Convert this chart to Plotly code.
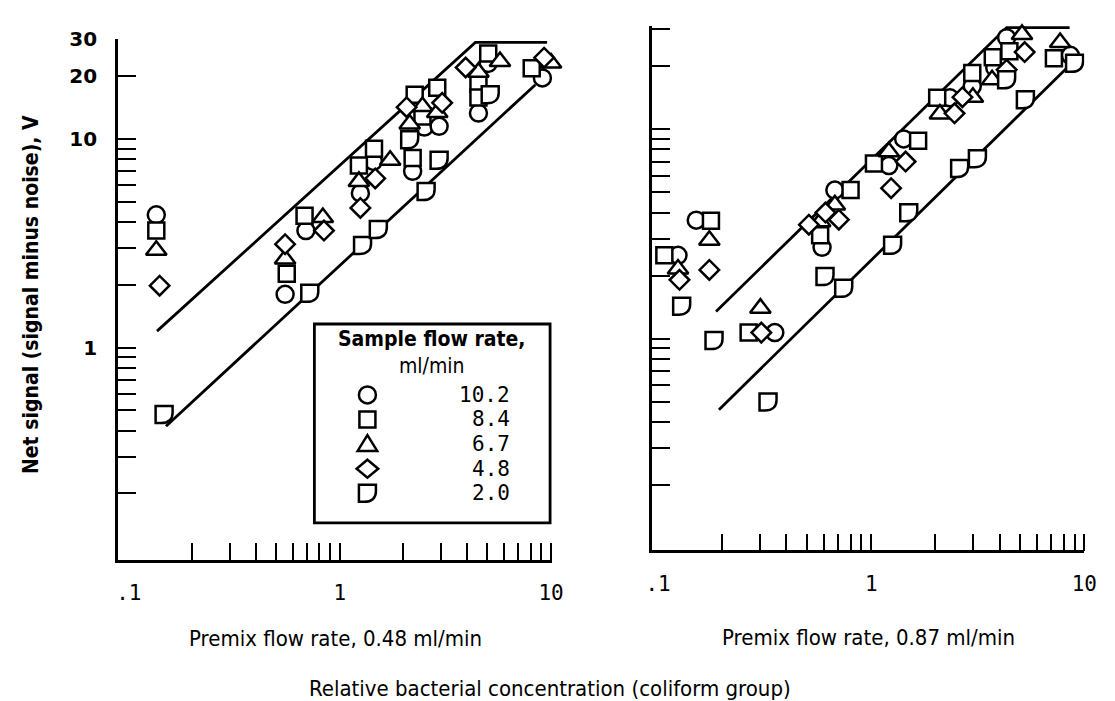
import plotly.graph_objects as go

# ---------------- data ----------------
flow_rates = ["10.2", "8.4", "6.7", "4.8", "2.0"]
symbols = ["circle", "square", "triangle-up", "diamond", "D"]

# Left panel: premix flow rate 0.48 ml/min
L_circle_x = [0.135, 0.55, 0.69, 1.44, 1.25, 2.51, 2.95, 2.21, 5.04, 4.53, 9.1]
L_circle_y = [4.33, 1.80, 3.64, 7.8, 5.5, 11.4, 11.5, 7.0, 23.0, 13.3, 19.6]
L_square_x = [0.135, 0.56, 0.68, 1.45, 1.23, 2.26, 2.89, 2.46, 2.21, 5.04, 4.53, 4.53, 8.1]
L_square_y = [3.64, 2.26, 4.29, 8.97, 7.46, 16.3, 17.6, 12.8, 8.1, 25.7, 18.4, 15.8, 21.8]
L_tri_x = [0.135, 0.55, 0.83, 1.73, 1.23, 2.46, 2.89, 2.14, 5.73, 4.53, 10.0]
L_tri_y = [2.93, 2.66, 4.2, 7.9, 6.26, 14.3, 13.4, 11.8, 23.5, 20.9, 23.1]
L_dia_x = [0.14, 0.55, 0.84, 1.47, 1.25, 2.07, 3.05, 3.94, 9.27]
L_dia_y = [1.98, 3.13, 3.64, 6.47, 4.67, 14.2, 14.9, 22.0, 24.5]
L_D_x = [0.147, 0.72, 1.28, 1.52, 2.14, 2.95, 2.56, 5.15]
L_D_y = [0.478, 1.82, 3.09, 3.68, 9.9, 7.9, 5.6, 16.3]
L_upper_x = [0.136, 4.38, 9.58]
L_upper_y = [1.20, 29.0, 29.0]
L_lower_x = [0.150, 8.43]
L_lower_y = [0.42, 18.2]

# Right panel: premix flow rate 0.87 ml/min
R_circle_x = [0.151, 0.124, 0.353, 0.675, 0.588, 1.21, 1.42, 2.34, 2.98, 4.32, 3.80, 8.6]
R_circle_y = [3.68, 2.50, 1.07, 5.12, 2.73, 6.7, 8.98, 14.1, 16.0, 27.3, 19.6, 22.5]
R_square_x = [0.177, 0.107, 0.266, 0.80, 0.576, 1.03, 1.66, 2.04, 2.98, 3.72, 4.45, 7.2]
R_square_y = [3.66, 2.50, 1.07, 5.12, 3.12, 6.85, 8.8, 14.1, 18.5, 22.0, 23.5, 21.8]
R_tri_x = [0.174, 0.124, 0.302, 0.675, 0.576, 1.21, 2.10, 3.0, 3.69, 5.1, 7.7]
R_tri_y = [2.95, 2.15, 1.40, 4.35, 3.62, 7.8, 11.8, 14.2, 17.2, 28.3, 25.9]
R_dia_x = [0.174, 0.126, 0.305, 0.51, 0.705, 0.61, 1.45, 1.24, 2.46, 2.68, 4.32, 5.25]
R_dia_y = [2.13, 1.91, 1.07, 3.5, 3.70, 4.0, 7.0, 5.23, 11.9, 14.2, 19.2, 23.3]
R_D_x = [0.129, 0.183, 0.328, 0.607, 0.743, 1.26, 1.50, 2.60, 3.15, 5.29, 9.0, 4.32]
R_D_y = [1.43, 0.98, 0.50, 1.98, 1.74, 2.79, 3.99, 6.49, 7.23, 13.8, 20.6, 17.2]
R_upper_x = [0.187, 4.32, 8.53]
R_upper_y = [1.35, 30.5, 30.5]
R_lower_x = [0.193, 8.3]
R_lower_y = [0.459, 19.6]

x_tick_vals = [0.1, 1, 10]
x_tick_text = [".1", "1", "10"]
x_minor_vals = [0.2, 0.3, 0.4, 0.5, 0.6, 0.7, 0.8, 0.9, 1, 2, 3, 4, 5, 6, 7, 8, 9, 10]
y_tick_vals = [0.2, 0.3, 0.4, 0.5, 0.6, 0.7, 0.8, 0.9, 1, 2, 3, 4, 5, 6, 7, 8, 9, 10, 20, 30]
y_labelled = {1: "1", 10: "10", 20: "20", 30: "30"}
y_tick_text = [y_labelled.get(v, "") for v in y_tick_vals]

# ---------------- styling ----------------
W, H = 1115, 701
NARROW = "Liberation Sans Narrow, DejaVu Sans Condensed, Liberation Sans, sans-serif"
MONO = "DejaVu Sans Mono, monospace"
INK = "black"
MLW = 2.5  # marker outline width


def px_x(p):
    return p / W


def px_y(p):
    return 1 - p / H


marker_style = {
    "circle": dict(symbol="circle", size=17),
    "square": dict(symbol="square", size=16),
    "triangle-up": dict(symbol="triangle-up", size=18),
    "diamond": dict(symbol="diamond", size=15),
}


def d_path(s):
    # flat top, flat left, rounded bottom-right ("D" lying on its side); y is up
    return (f"M{-s},{s} L{s},{s} L{s},{0.2*s:.2f} "
            f"C{s},{-0.6*s:.2f} {0.45*s:.2f},{-s} {-0.35*s:.2f},{-s} L{-s},{-s} Z")


def tri_path(s):
    return f"M{-1.15*s:.2f},{-0.8*s:.2f} L{1.15*s:.2f},{-0.8*s:.2f} L0,{1.05*s:.2f} Z"


def dia_path(s):
    return f"M0,{s} L{1.2*s:.2f},0 L0,{-s} L{-1.2*s:.2f},0 Z"


fig = go.Figure()
shapes = []

panels = [
    ("x", "y", [(L_circle_x, L_circle_y, "circle"), (L_square_x, L_square_y, "square"),
                (L_tri_x, L_tri_y, "triangle-up"), (L_dia_x, L_dia_y, "diamond")],
     (L_D_x, L_D_y), [(L_upper_x, L_upper_y), (L_lower_x, L_lower_y)]),
    ("x2", "y2", [(R_circle_x, R_circle_y, "circle"), (R_square_x, R_square_y, "square"),
                  (R_tri_x, R_tri_y, "triangle-up"), (R_dia_x, R_dia_y, "diamond")],
     (R_D_x, R_D_y), [(R_upper_x, R_upper_y), (R_lower_x, R_lower_y)]),
]

for xa, ya, series, dser, lines in panels:
    for lx, ly in lines:
        fig.add_trace(go.Scatter(x=lx, y=ly, mode="lines", xaxis=xa, yaxis=ya,
                                 line=dict(color=INK, width=2.8), hoverinfo="skip"))
    for sx, sy, sym in series:
        st = marker_style[sym]
        fig.add_trace(go.Scatter(x=sx, y=sy, mode="markers", xaxis=xa, yaxis=ya, cliponaxis=False,
                                 marker=dict(symbol=st["symbol"], size=st["size"], color="white",
                                             line=dict(color=INK, width=MLW))))
    for dx, dy in zip(*dser):
        shapes.append(dict(type="path", xref=xa, yref=ya, xsizemode="pixel", ysizemode="pixel",
                           xanchor=dx, yanchor=dy, path=d_path(8.5), fillcolor="white",
                           line=dict(color=INK, width=MLW), layer="above"))

# ---------------- legend (manual, to show the D symbol) ----------------
shapes.append(dict(type="rect", xref="paper", yref="paper", x0=px_x(313), x1=px_x(553),
                   y0=px_y(520), y1=px_y(318), line=dict(color=INK, width=2.8),
                   fillcolor="rgba(0,0,0,0)", layer="above"))
row0, row_step, sym_x, val_x = 390, 25, 367, 514
annotations = []
for i, (lab, sym) in enumerate(zip(flow_rates, symbols)):
    ry = row0 + i * row_step
    base = dict(xref="paper", yref="paper", xsizemode="pixel", ysizemode="pixel",
                xanchor=px_x(sym_x), yanchor=px_y(ry), fillcolor="white",
                line=dict(color=INK, width=MLW), layer="above")
    if sym == "circle":
        shapes.append(dict(type="circle", x0=-8.5, x1=8.5, y0=-8.5, y1=8.5, **base))
    elif sym == "square":
        shapes.append(dict(type="rect", x0=-8, x1=8, y0=-8, y1=8, **base))
    elif sym == "triangle-up":
        shapes.append(dict(type="path", path=tri_path(8.5), **base))
    elif sym == "diamond":
        shapes.append(dict(type="path", path=dia_path(9), **base))
    else:
        shapes.append(dict(type="path", path=d_path(8.5), **base))
    annotations.append(dict(xref="paper", yref="paper", x=px_x(val_x), y=px_y(ry), text=lab,
                            xanchor="right", yanchor="middle", showarrow=False,
                            font=dict(family=MONO, size=21, color=INK)))

annotations.append(dict(xref="paper", yref="paper", x=px_x(433), y=px_y(347),
                        text="<b>Sample flow rate,</b><br>ml/min", showarrow=False,
                        xanchor="center", yanchor="middle", align="center",
                        font=dict(family=NARROW, size=21, color=INK)))

# ---------------- titles ----------------
annotations += [
    dict(xref="paper", yref="paper", x=px_x(25), y=px_y(288), text="<b>Net signal (signal minus noise), V</b>",
         textangle=-90, showarrow=False, xanchor="center", yanchor="middle",
         font=dict(family=NARROW, size=21, color=INK)),
    dict(xref="paper", yref="paper", x=px_x(335), y=px_y(638), text="Premix flow rate, 0.48 ml/min",
         showarrow=False, xanchor="center", yanchor="middle", font=dict(family=NARROW, size=22, color=INK)),
    dict(xref="paper", yref="paper", x=px_x(877), y=px_y(636), text="Premix flow rate, 0.87 ml/min",
         showarrow=False, xanchor="center", yanchor="middle", font=dict(family=NARROW, size=22, color=INK)),
    dict(xref="paper", yref="paper", x=px_x(553), y=px_y(688),
         text="Relative bacterial concentration (coliform group)",
         showarrow=False, xanchor="center", yanchor="middle", font=dict(family=NARROW, size=22, color=INK)),
]

xcommon = dict(type="log", showline=True, linecolor=INK, linewidth=2.8, showgrid=False, zeroline=False,
               tickmode="array", tickvals=x_tick_vals, ticktext=x_tick_text, ticks="",
               tickfont=dict(family=MONO, size=21, color=INK), ticklabelstandoff=12,
               minor=dict(tickmode="array", tickvals=x_minor_vals, ticks="inside", ticklen=17,
                          tickwidth=2.4, tickcolor=INK, showgrid=False))
ycommon = dict(type="log", showline=True, linecolor=INK, linewidth=2.8, showgrid=False, zeroline=False,
               tickmode="array", tickvals=y_tick_vals, ticktext=y_tick_text, ticks="inside",
               ticklen=18, tickwidth=2.4, tickcolor=INK,
               tickfont=dict(family="DejaVu Sans", size=20, color=INK, weight="bold"),
               ticklabelstandoff=14)

fig.update_layout(
    width=W, height=H, margin=dict(l=0, r=0, t=0, b=0),
    paper_bgcolor="white", plot_bgcolor="white", showlegend=False,
    xaxis=dict(domain=[px_x(113), px_x(555)], range=[-1.0512, 1.0047], anchor="y", **xcommon),
    yaxis=dict(domain=[px_y(558), px_y(28)], range=[-1.0189, 1.4811], anchor="x", **ycommon),
    xaxis2=dict(domain=[px_x(657), px_x(1097)], range=[-1.0276, 1.0], anchor="y2", **xcommon),
    yaxis2=dict(domain=[px_y(548), px_y(15)], range=[-1.0094, 1.4930], anchor="x2",
                showticklabels=False, **ycommon),
    shapes=shapes, annotations=annotations,
)

fig.write_html("out.html")
